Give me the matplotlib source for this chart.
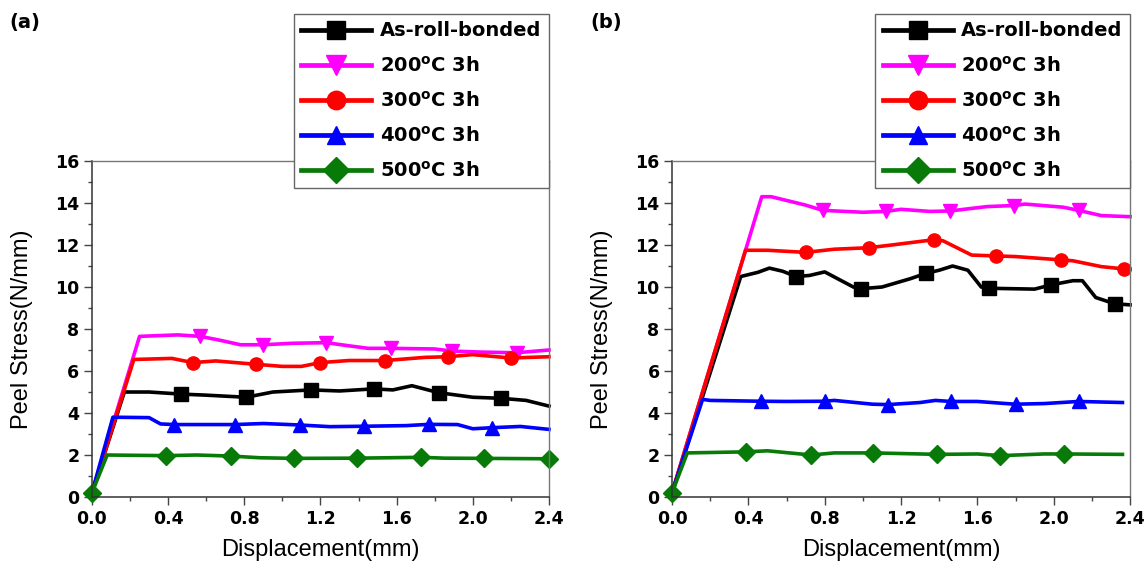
import matplotlib.pyplot as plt
from matplotlib.ticker import AutoMinorLocator

plt.rcParams['font.family'] = ['Liberation Sans', 'DejaVu Sans']
plt.rcParams['mathtext.fontset'] = 'custom'
plt.rcParams['mathtext.rm'] = 'DejaVu Sans'
plt.rcParams['mathtext.bf'] = 'DejaVu Sans:bold'

# legend labels / style per series
labels = ['As-roll-bonded', r'$\mathbf{200^{o}C\ 3h}$', r'$\mathbf{300^{o}C\ 3h}$',
          r'$\mathbf{400^{o}C\ 3h}$', r'$\mathbf{500^{o}C\ 3h}$']
colors = ['black', '#ff00ff', '#ff0000', '#0000ff', '#087a08']
markers = ['s', 'v', 'o', '^', 'D']

xticks = [0.0, 0.4, 0.8, 1.2, 1.6, 2.0, 2.4]
yticks = [0, 2, 4, 6, 8, 10, 12, 14, 16]

# ---- panel (a) ----
a_black_x = [0.0, 0.17, 0.30, 0.47, 0.60, 0.81, 0.95, 1.15, 1.30, 1.48, 1.58, 1.68, 1.82, 2.00, 2.15, 2.28, 2.40]
a_black_y = [0.2, 5.0, 5.0, 4.9, 4.85, 4.75, 5.0, 5.1, 5.05, 5.15, 5.1, 5.3, 4.97, 4.75, 4.7, 4.6, 4.33]
a_black_m = [3, 5, 7, 9, 12, 14]

a_200_x = [0.0, 0.25, 0.45, 0.57, 0.68, 0.78, 0.90, 1.05, 1.23, 1.35, 1.45, 1.57, 1.80, 1.89, 2.05, 2.23, 2.40]
a_200_y = [0.2, 7.65, 7.72, 7.65, 7.45, 7.25, 7.25, 7.32, 7.35, 7.2, 7.08, 7.08, 7.05, 6.95, 6.9, 6.87, 7.0]
a_200_m = [3, 6, 8, 11, 13, 15]

a_300_x = [0.0, 0.22, 0.42, 0.53, 0.65, 0.86, 1.0, 1.1, 1.20, 1.35, 1.54, 1.75, 1.87, 2.0, 2.2, 2.4]
a_300_y = [0.2, 6.55, 6.6, 6.4, 6.48, 6.32, 6.22, 6.22, 6.4, 6.5, 6.5, 6.65, 6.68, 6.78, 6.62, 6.68]
a_300_m = [3, 5, 8, 10, 12, 14]

a_400_x = [0.0, 0.11, 0.30, 0.36, 0.43, 0.75, 0.90, 1.09, 1.25, 1.43, 1.65, 1.77, 1.92, 2.0, 2.10, 2.25, 2.40]
a_400_y = [0.2, 3.8, 3.78, 3.48, 3.45, 3.45, 3.5, 3.43, 3.35, 3.37, 3.4, 3.46, 3.45, 3.25, 3.3, 3.36, 3.22]
a_400_m = [4, 5, 7, 9, 11, 14]

a_500_x = [0.0, 0.08, 0.39, 0.55, 0.73, 0.88, 1.06, 1.39, 1.73, 1.85, 2.06, 2.40]
a_500_y = [0.2, 2.0, 1.97, 2.0, 1.95, 1.87, 1.84, 1.85, 1.89, 1.85, 1.84, 1.82]
a_500_m = [0, 2, 4, 6, 7, 8, 10, 11]

# ---- panel (b) ----
b_black_x = [0.0, 0.36, 0.45, 0.51, 0.58, 0.65, 0.72, 0.80, 0.95, 0.99, 1.10, 1.25, 1.33, 1.40, 1.47, 1.55, 1.62,
             1.66, 1.90, 1.985, 2.10, 2.15, 2.22, 2.32, 2.4]
b_black_y = [0.2, 10.5, 10.7, 10.9, 10.75, 10.5, 10.55, 10.72, 10.0, 9.92, 10.0, 10.4, 10.65, 10.8, 11.0, 10.8, 10.0,
             9.94, 9.9, 10.1, 10.3, 10.3, 9.5, 9.2, 9.15]
b_black_m = [5, 9, 12, 17, 19, 23]

b_200_x = [0.0, 0.47, 0.52, 0.70, 0.79, 1.0, 1.12, 1.2, 1.35, 1.455, 1.65, 1.79, 1.85, 2.05, 2.13, 2.25, 2.4]
b_200_y = [0.2, 14.3, 14.3, 13.9, 13.65, 13.56, 13.6, 13.7, 13.6, 13.62, 13.83, 13.88, 13.95, 13.8, 13.65, 13.4, 13.35]
b_200_m = [4, 6, 9, 11, 14]

b_300_x = [0.0, 0.385, 0.5, 0.70, 0.85, 1.03, 1.15, 1.37, 1.42, 1.57, 1.70, 1.80, 2.04, 2.1, 2.25, 2.37, 2.4]
b_300_y = [0.2, 11.75, 11.75, 11.65, 11.8, 11.87, 12.0, 12.25, 12.2, 11.52, 11.48, 11.45, 11.29, 11.25, 10.97, 10.86, 10.85]
b_300_m = [3, 5, 7, 10, 12, 15]

b_400_x = [0.0, 0.16, 0.20, 0.467, 0.60, 0.80, 0.85, 1.05, 1.13, 1.30, 1.38, 1.46, 1.60, 1.75, 1.80, 1.95, 2.13, 2.36]
b_400_y = [0.2, 4.65, 4.6, 4.56, 4.55, 4.56, 4.6, 4.42, 4.4, 4.5, 4.6, 4.55, 4.55, 4.45, 4.42, 4.45, 4.55, 4.5]
b_400_m = [3, 5, 8, 11, 14, 16]

b_500_x = [0.0, 0.08, 0.385, 0.5, 0.73, 0.85, 1.055, 1.3, 1.39, 1.6, 1.72, 1.95, 2.055, 2.36]
b_500_y = [0.2, 2.1, 2.15, 2.2, 2.0, 2.1, 2.1, 2.05, 2.03, 2.05, 1.97, 2.05, 2.05, 2.03]
b_500_m = [0, 2, 4, 6, 8, 10, 12]

panel_a = [(a_black_x, a_black_y, a_black_m), (a_200_x, a_200_y, a_200_m), (a_300_x, a_300_y, a_300_m),
           (a_400_x, a_400_y, a_400_m), (a_500_x, a_500_y, a_500_m)]
panel_b = [(b_black_x, b_black_y, b_black_m), (b_200_x, b_200_y, b_200_m), (b_300_x, b_300_y, b_300_m),
           (b_400_x, b_400_y, b_400_m), (b_500_x, b_500_y, b_500_m)]

fig = plt.figure(figsize=(11.48, 5.72), dpi=100)
ax_a = fig.add_axes([0.0801, 0.1311, 0.3981, 0.5874])
ax_b = fig.add_axes([0.5854, 0.1311, 0.3990, 0.5874])

bold_font = {'family': 'DejaVu Sans', 'weight': 'bold'}


def draw(ax, series, tag, tag_x):
    for (x, y, m), lab, c, mk in zip(series, labels, colors, markers):
        ms = 10.5 if mk == 'v' else 9.5
        ax.plot(x, y, color=c, lw=2.6, marker=mk, markevery=m, ms=ms, label=lab, clip_on=False)

    ax.set_xlim(0, 2.4)
    ax.set_ylim(0, 16)
    ax.set_xticks(xticks)
    ax.set_yticks(yticks)
    ax.set_xticklabels(['%.1f' % t for t in xticks], fontsize=12.5, **bold_font)
    ax.set_yticklabels([str(t) for t in yticks], fontsize=12.5, **bold_font)
    ax.xaxis.set_minor_locator(AutoMinorLocator(2))
    ax.yaxis.set_minor_locator(AutoMinorLocator(2))
    ax.tick_params(which='major', direction='out', length=6, width=1, color='#444', pad=3)
    ax.tick_params(which='minor', direction='out', length=3, width=1, color='#444')
    for s in ['left', 'bottom']:
        ax.spines[s].set_color('#333')
        ax.spines[s].set_linewidth(1.1)
    for s in ['top', 'right']:
        ax.spines[s].set_color('#777')
        ax.spines[s].set_linewidth(1.0)

    ax.set_xlabel('Displacement(mm)', fontsize=17, labelpad=8)
    ax.set_ylabel('Peel Stress(N/mm)', fontsize=17, labelpad=16)

    leg = ax.legend(loc='upper right', bbox_to_anchor=(1.0, 1.4375), borderaxespad=0,
                    prop={'family': 'DejaVu Sans', 'weight': 'bold', 'size': 14},
                    markerscale=1.4, handlelength=3.6, handletextpad=0.45,
                    labelspacing=0.78, borderpad=0.38,
                    fancybox=False, framealpha=1, edgecolor='#666')
    leg.get_frame().set_linewidth(1.0)
    for h in leg.get_lines():
        h.set_linewidth(3.4)

    fig.text(tag_x, 0.96, tag, fontsize=14, ha='left', va='center', **bold_font)


draw(ax_a, panel_a, '(a)', 0.008)
draw(ax_b, panel_b, '(b)', 0.514)

fig.savefig('out.png', dpi=100)
